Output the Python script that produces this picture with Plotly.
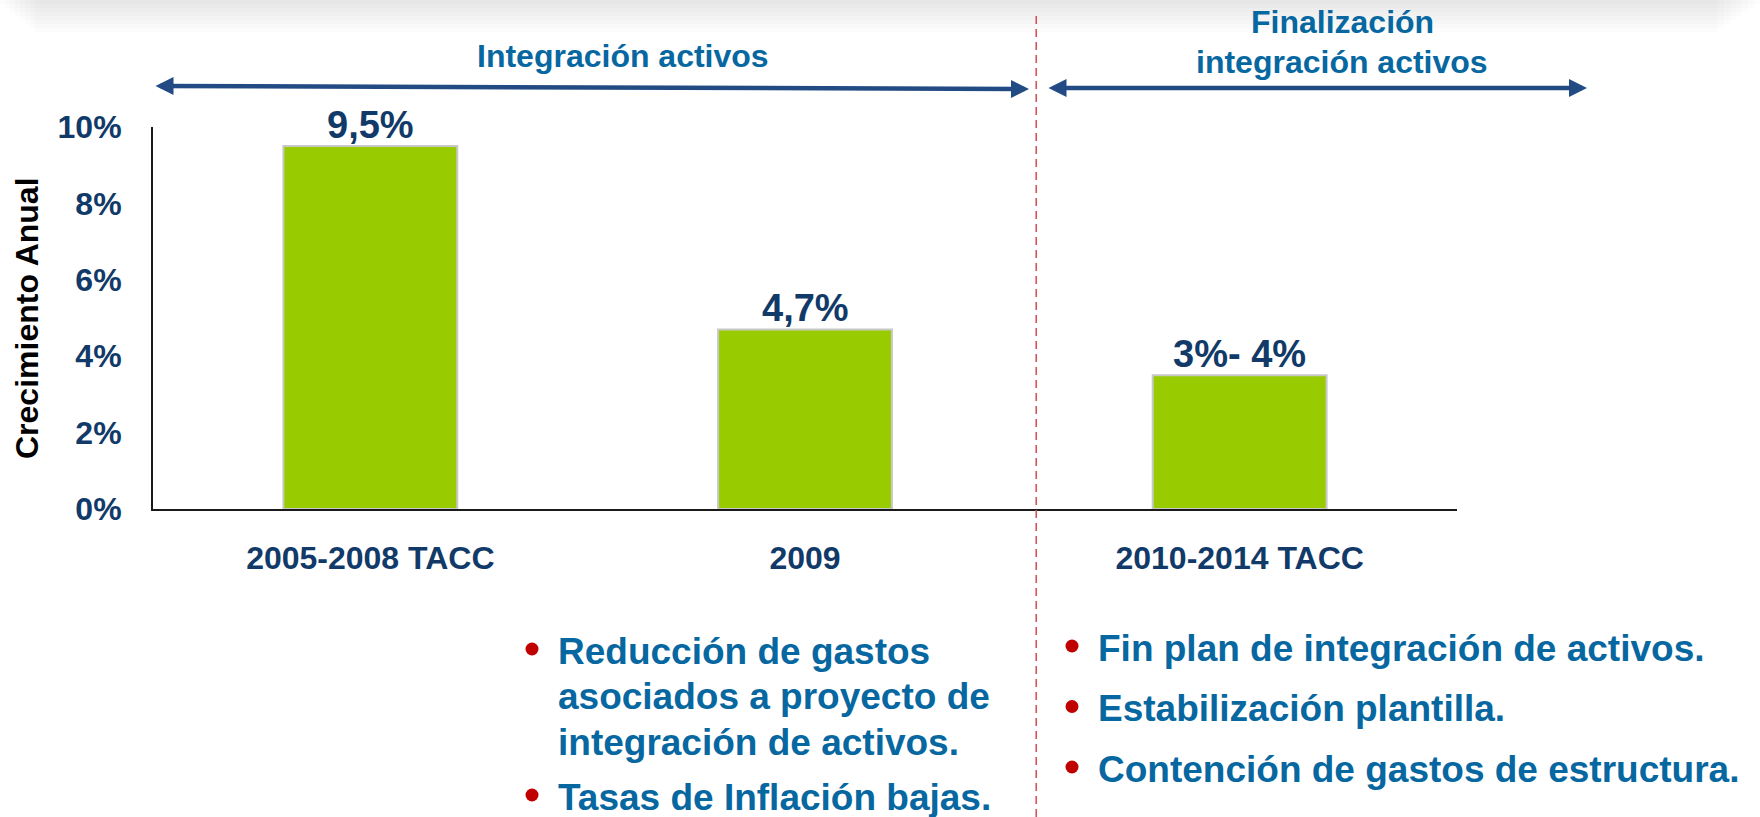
import plotly.graph_objects as go

W, H = 1760, 817

# ---------------- data ----------------
categories = ["2005-2008 TACC", "2009", "2010-2014 TACC"]
growth = [9.5, 4.7, 3.5]
value_labels = ["9,5%", "4,7%", "3%- 4%"]
y_tick_vals = [0, 2, 4, 6, 8, 10]
y_tick_text = ["0%", "2%", "4%", "6%", "8%", "10%"]
y_title = "Crecimiento Anual"
phase_left = "Integración activos"
phase_right = ["Finalización", "integración activos"]
bullets_left = [
    ["Reducción de gastos", "asociados a proyecto de", "integración de activos."],
    ["Tasas de Inflación bajas."],
]
bullets_right = [
    ["Fin plan de integración de activos."],
    ["Estabilización plantilla."],
    ["Contención de gastos de estructura."],
]

# ---------------- style ----------------
FONT = "Liberation Sans, Arial, sans-serif"
NAVY = "#113A69"
TEAL = "#0767A0"
ARROW = "#224B84"
RED = "#C00000"
GREEN = "#99CC00"


def px(x):
    return x / W


def py(y):
    return 1 - y / H


def bfont(size, color):
    return dict(family=FONT, size=size, color=color, weight="bold")


fig = go.Figure()
fig.add_trace(go.Bar(
    x=categories, y=growth, width=0.4,
    marker=dict(color=GREEN, line=dict(color="#C8C8C8", width=2)),
    hoverinfo="skip",
))

shapes = []
# soft grey shade at top of slide
for k in range(8):
    shapes.append(dict(type="rect", xref="paper", yref="paper", layer="below",
                       x0=px(5 * k), x1=px(W - 6 * k), y0=py(4 * (k + 1)), y1=1,
                       line=dict(width=0), fillcolor="rgba(0,0,0,0.012)"))
# dashed separator
shapes.append(dict(type="line", xref="x", yref="paper", x0=1.532, x1=1.532,
                   y0=0, y1=py(16), line=dict(color="#D5545A", width=1.6, dash="8px,5px")))

annotations = []
# value labels above bars (category index positions on the category axis)
for i, (val, lab) in enumerate(zip(growth, value_labels)):
    annotations.append(dict(xref="x", yref="y", x=i, y=val, text=lab, showarrow=False,
                            xanchor="center", yanchor="bottom", yshift=-2,
                            font=bfont(38, NAVY)))
# phase arrows
annotations.append(dict(xref="paper", yref="paper", x=px(1029), y=py(89),
                        ax=154 - 1029, ay=86 - 89, axref="pixel", ayref="pixel",
                        text="", showarrow=True, arrowside="end+start",
                        arrowhead=2, startarrowhead=2, arrowsize=0.8, startarrowsize=0.8,
                        arrowwidth=4.5, arrowcolor=ARROW, standoff=0, startstandoff=0))
annotations.append(dict(xref="paper", yref="paper", x=px(1587), y=py(88),
                        ax=1047 - 1587, ay=0, axref="pixel", ayref="pixel",
                        text="", showarrow=True, arrowside="end+start",
                        arrowhead=2, startarrowhead=2, arrowsize=0.8, startarrowsize=0.8,
                        arrowwidth=4.5, arrowcolor=ARROW, standoff=0, startstandoff=0))
# phase headings
annotations.append(dict(xref="paper", yref="paper", x=px(623), y=py(56),
                        text=phase_left, showarrow=False, xanchor="center", yanchor="middle",
                        font=bfont(32, TEAL)))
for i, line in enumerate(phase_right):
    annotations.append(dict(xref="paper", yref="paper", x=px(1342), y=py(22 + 40 * i),
                            text=line, showarrow=False, xanchor="center", yanchor="middle",
                            font=bfont(32, TEAL)))
# y-axis title
annotations.append(dict(xref="paper", yref="paper", x=px(27), y=py(318),
                        text=y_title, textangle=-90, showarrow=False,
                        xanchor="center", yanchor="middle",
                        font=bfont(32, "#000000")))


def add_bullets(groups, x_dot, x_text, y_start, line_gap, para_gap):
    y = y_start
    for group in groups:
        shapes.append(dict(type="circle", xref="paper", yref="paper",
                           x0=px(x_dot - 6.5), x1=px(x_dot + 6.5),
                           y0=py(y - 2 + 6.5), y1=py(y - 2 - 6.5),
                           fillcolor=RED, line=dict(width=0)))
        for j, line in enumerate(group):
            annotations.append(dict(xref="paper", yref="paper", x=px(x_text), y=py(y),
                                    text=line, showarrow=False, xanchor="left", yanchor="middle",
                                    font=bfont(37, TEAL)))
            if j < len(group) - 1:
                y += line_gap
        y += para_gap


add_bullets(bullets_left, 532, 556, 651, 45.5, 55)
add_bullets(bullets_right, 1072, 1096, 648, 60.5, 60.5)

fig.update_layout(
    width=W, height=H,
    margin=dict(l=0, r=0, t=0, b=0, pad=0, autoexpand=False),
    paper_bgcolor="white", plot_bgcolor="rgba(0,0,0,0)",
    showlegend=False,
    shapes=shapes, annotations=annotations,
    xaxis=dict(domain=[px(153), px(1457)], range=[-0.5, 2.5], type="category",
               automargin=False,
               showline=True, linecolor="#1A1A1A", linewidth=2, showgrid=False,
               zeroline=False, ticks="", ticklabelstandoff=20,
               tickfont=bfont(32, NAVY)),
    yaxis=dict(domain=[py(509), py(127)], range=[0, 10], automargin=False,
               tickvals=y_tick_vals, ticktext=y_tick_text,
               showline=True, linecolor="#1A1A1A", linewidth=2, showgrid=False,
               zeroline=False, ticks="", ticklabelstandoff=23,
               tickfont=bfont(32, NAVY)),
)

fig.write_html("out.html", config={"displayModeBar": False},
               post_script="document.body.style.margin='0';document.body.style.overflow='hidden';")
